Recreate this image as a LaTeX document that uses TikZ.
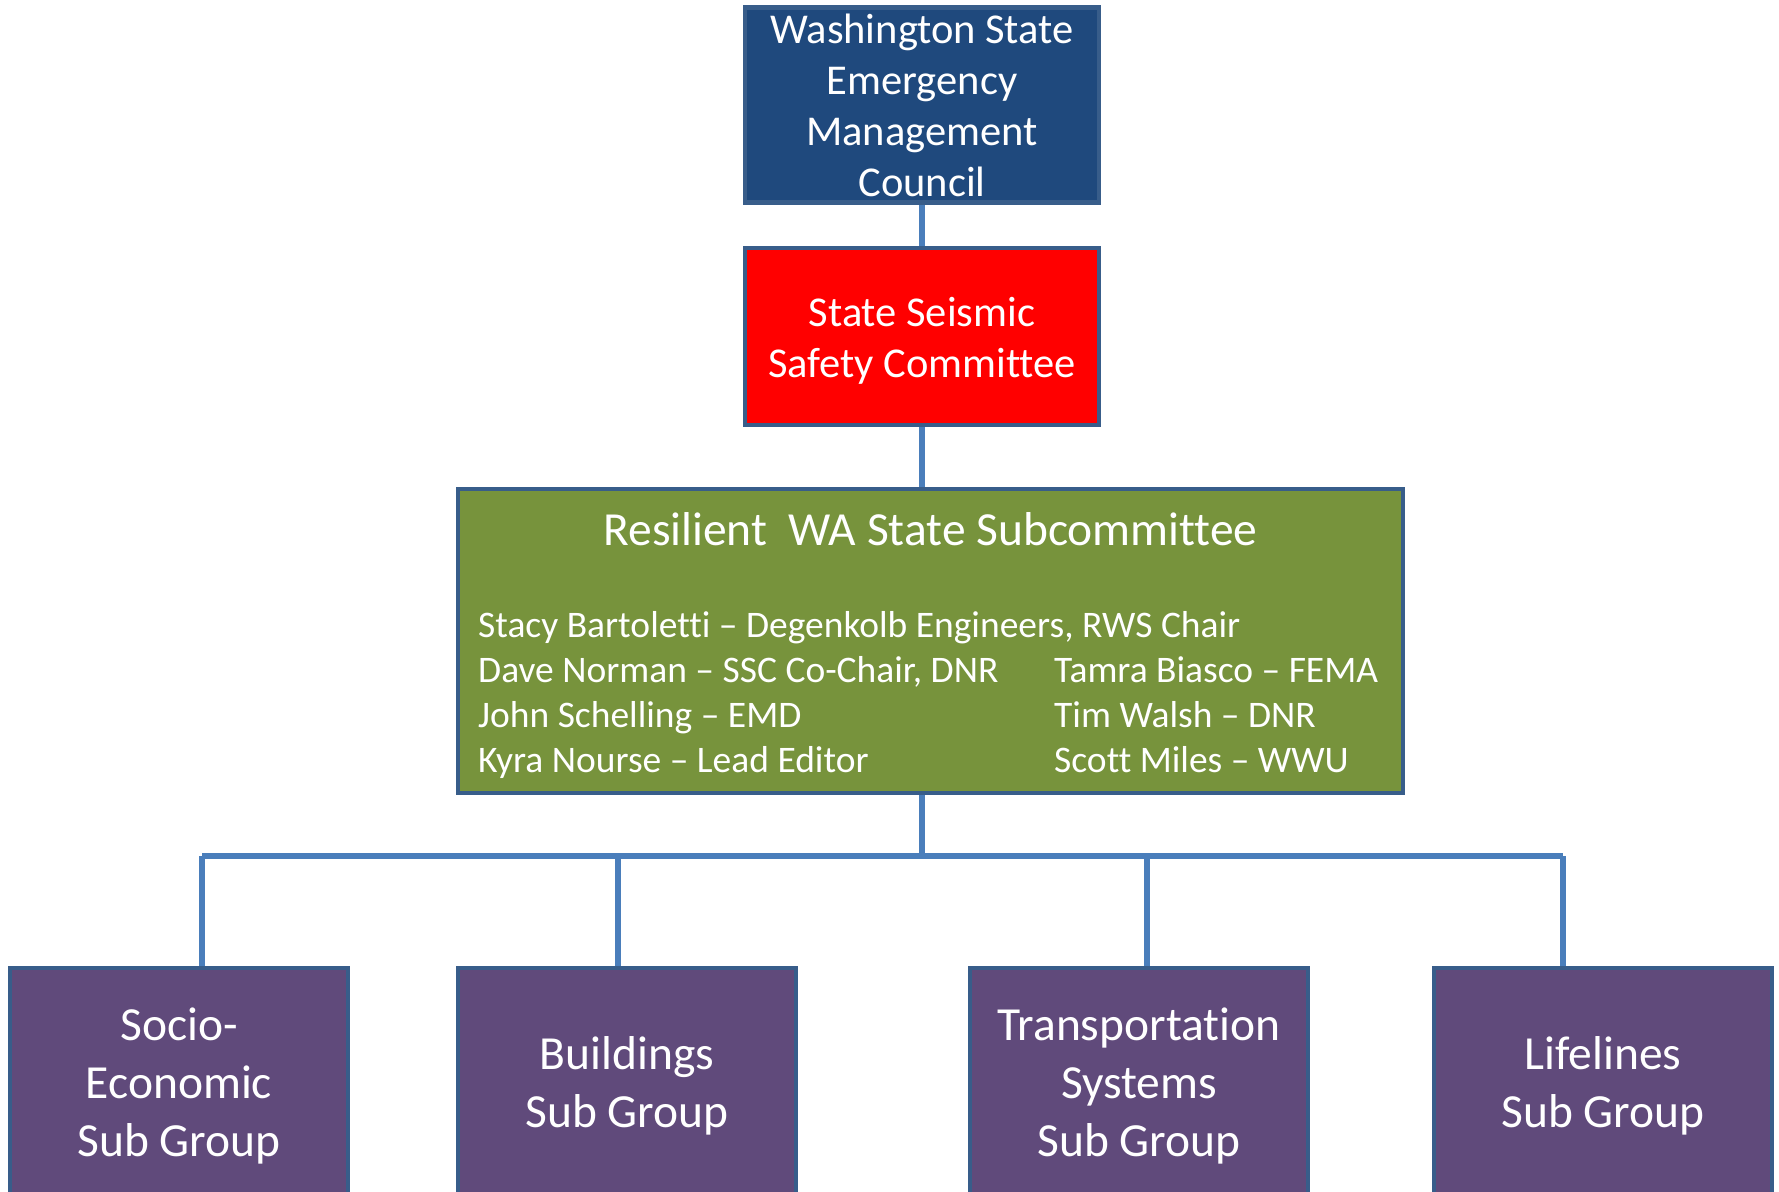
\documentclass[tikz,border=0pt]{standalone}
\usepackage{fontspec}
\setmainfont{Carlito}[Ligatures={NoCommon}]
\definecolor{topblue}{HTML}{1F497D}
\definecolor{edgeblue}{HTML}{385D8A}
\definecolor{linkblue}{HTML}{4A7EBB}
\definecolor{olive}{HTML}{77933C}
\definecolor{plum}{HTML}{604A7B}
\definecolor{brightred}{HTML}{FF0000}
\tikzset{
  box/.style={draw=edgeblue, line width=4.5pt, rectangle, align=center, text=white, inner sep=0pt},
  link/.style={draw=linkblue, line width=6pt},
  bigtext/.style={font=\fontsize{42.5}{51}\selectfont},
  subtext/.style={font=\fontsize{47.5}{58}\selectfont},
  member/.style={anchor=base west, inner sep=0pt, text=white, font=\fontsize{37.5}{45}\selectfont},
}
\begin{document}
\begin{tikzpicture}[x=1pt,y=-1pt]
\useasboundingbox (0,0) rectangle (1779,1191);
\clip (0,0) rectangle (1779,1191);
\fill[white] (0,0) rectangle (1779,1191);
\coordinate (bus) at (922,856);
\coordinate (bl) at (202,856);
\coordinate (b2) at (618,856);
\coordinate (b3) at (1147,856);
\coordinate (br) at (1563,856);
% top
\node[box, bigtext, fill=topblue, minimum width=354pt, minimum height=195pt] (wsemc) at (922,105) {Washington State\\Emergency\\Management\\Council};
\node[box, bigtext, fill=brightred, minimum width=354pt, minimum height=177pt] (ssc) at (922,336.5) {\raisebox{-4.5pt}[\height][\depth]{\parbox{340pt}{\centering State Seismic\\Safety Committee}}};
\node[box, fill=olive, minimum width=945pt, minimum height=304pt] (rws) at (930.5,641) {};
\node[inner sep=0pt, text=white, font=\fontsize{47.5}{56}\selectfont] (title) at (930.5,529) {Resilient\ \ WA State Subcommittee};
\node[member] (m1) at (478,637) {Stacy Bartoletti – Degenkolb Engineers, RWS Chair};
\node[member] (m2) at (478,682) {Dave Norman – SSC Co-Chair, DNR};
\node[member] (m3) at (478,727) {John Schelling – EMD};
\node[member] (m4) at (478,772) {Kyra Nourse – Lead Editor};
\node[member] (m5) at (1054,682) {Tamra Biasco – FEMA};
\node[member] (m6) at (1054,727) {Tim Walsh – DNR};
\node[member] (m7) at (1054,772) {Scott Miles – WWU};
% bottom
\node[box, subtext, fill=plum, minimum width=338pt, minimum height=235pt] (g1) at (179,1085.5) {Socio-\\Economic\\Sub Group};
\node[box, subtext, fill=plum, minimum width=338pt, minimum height=235pt] (g2) at (627,1085.5) {Buildings\\Sub Group};
\node[box, subtext, fill=plum, minimum width=338pt, minimum height=235pt] (g3) at (1139,1085.5) {Transportation\\Systems\\Sub Group};
\node[box, subtext, fill=plum, minimum width=338pt, minimum height=235pt] (g4) at (1603,1085.5) {Lifelines\\Sub Group};
% connectors
\draw[link] (wsemc.south) -- (ssc.north);
\draw[link] (ssc.south) -- (ssc.south |- rws.north);
\draw[link] (bus |- rws.south) -- (bus);
\draw[link] (bl) -- (br);
\draw[link] (bl) -- (bl |- g1.north);
\draw[link] (b2) -- (b2 |- g2.north);
\draw[link] (b3) -- (b3 |- g3.north);
\draw[link] (br) -- (br |- g4.north);
\end{tikzpicture}
\end{document}
